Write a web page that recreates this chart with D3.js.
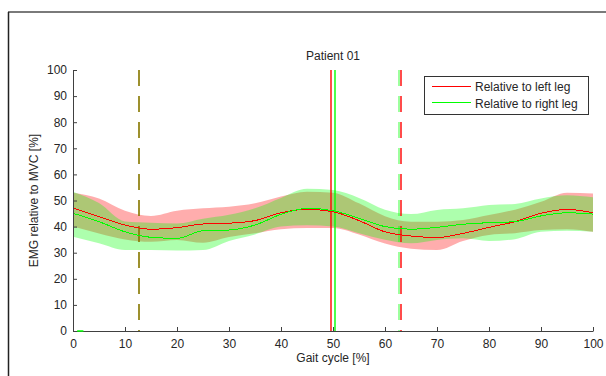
<!DOCTYPE html>
<html>
<head>
<meta charset="utf-8">
<script src="https://cdn.jsdelivr.net/npm/d3@7"></script>
<style>
  body { margin: 0; background: #fff; }
  svg { display: block; font-family: 'Liberation Sans', Arial, sans-serif; }
</style>
</head>
<body>
<div id="chrt"></div>
<script>
// gait cycle sample points [%]
const gaitPct = [0, 5, 10, 15, 20, 25, 30, 35, 40, 45, 50, 55, 60, 65, 70, 75, 80, 85, 90, 95, 100];
// relative to left leg (red)
const leftMean = [47.1, 43.8, 40.6, 39.0, 39.6, 41.0, 41.3, 42.3, 45.3, 46.6, 45.7, 42.3, 38.0, 36.4, 35.8, 37.4, 39.7, 41.9, 45.1, 46.6, 45.3];
const leftUpper = [53.0, 50.8, 46.1, 44.1, 46.1, 47.0, 47.6, 48.9, 51.5, 53.4, 53.0, 48.9, 44.0, 41.9, 41.9, 42.5, 44.4, 46.5, 49.5, 53.0, 52.7];
const leftLower = [40.0, 37.4, 35.1, 34.2, 34.9, 33.8, 36.0, 37.5, 39.0, 39.5, 39.5, 37.0, 33.5, 31.5, 31.0, 34.5, 36.8, 37.5, 38.7, 39.0, 38.0];
// relative to right leg (green)
const rightMean = [45.1, 41.9, 38.0, 35.9, 35.5, 38.4, 38.7, 40.6, 44.7, 47.0, 46.1, 43.2, 40.0, 39.0, 39.7, 40.9, 41.5, 41.9, 44.1, 45.3, 44.8];
const rightUpper = [53.4, 49.0, 42.0, 41.5, 41.2, 43.0, 44.5, 47.0, 51.0, 54.5, 54.0, 51.0, 46.5, 44.8, 46.4, 47.0, 48.3, 48.7, 50.8, 52.0, 51.2];
const rightLower = [36.1, 33.6, 31.0, 31.0, 30.8, 31.0, 34.5, 37.0, 40.0, 40.5, 40.0, 37.5, 35.0, 33.6, 34.9, 35.5, 34.5, 35.2, 38.0, 38.4, 38.0];
// gait events [%]
const leftDashedEvents = [12.5, 63.0];
const rightDashedEvents = [12.5, 62.8];
const leftSolidEvents = [49.7];
const rightSolidEvents = [50.5];
const rightBaseSeg = [0.8, 2.0];
// ticks & labels
const xTicks = [0, 10, 20, 30, 40, 50, 60, 70, 80, 90, 100];
const yTicks = [0, 10, 20, 30, 40, 50, 60, 70, 80, 90, 100];
const seriesNames = ['Relative to left leg', 'Relative to right leg'];
const titleText = 'Patient 01';
const xLabel = 'Gait cycle [%]';
const yLabel = 'EMG relative to MVC [%]';

const width = 606, height = 376;
const margin = { left: 73, right: 13, top: 70, bottom: 45 };
const innerW = width - margin.left - margin.right;
const innerH = height - margin.top - margin.bottom;

const svg = d3.select('#chrt').append('svg')
    .attr('width', width)
    .attr('height', height);

// figure frame (top + left edge of the window)
svg.append('line').attr('x1', 8).attr('x2', width).attr('y1', 12).attr('y2', 12)
    .attr('stroke', '#7a7a7a').attr('stroke-width', 2);
svg.append('line').attr('x1', 8.5).attr('x2', 8.5).attr('y1', 12).attr('y2', height)
    .attr('stroke', '#222').attr('stroke-width', 1.5);

const chrt = svg.append('g').attr('transform', 'translate(' + margin.left + ',' + margin.top + ')');

const scaleX = d3.scaleLinear().domain([0, 100]).range([0, innerW]);
const scaleY = d3.scaleLinear().domain([0, 100]).range([innerH, 0]);
// snap to the middle of an even pixel pair so a thin vertical line keeps its colour
const pxPair = (v) => 2 * Math.floor((scaleX(v) + margin.left) / 2) + 1 - margin.left;

function toRows(mean, upper, lower) {
  return gaitPct.map((p, i) => ({ x: p, m: mean[i], hi: upper[i], lo: lower[i] }));
}
const leftRows = toRows(leftMean, leftUpper, leftLower);
const rightRows = toRows(rightMean, rightUpper, rightLower);

const band = d3.area()
    .x((d) => scaleX(d.x))
    .y0((d) => scaleY(d.lo))
    .y1((d) => scaleY(d.hi))
    .curve(d3.curveMonotoneX);
const meanLine = d3.line()
    .x((d) => scaleX(d.x))
    .y((d) => scaleY(d.m))
    .curve(d3.curveMonotoneX);

chrt.append('path').attr('d', band(leftRows)).attr('fill', '#ff0000').attr('fill-opacity', 0.32);
chrt.append('path').attr('d', band(rightRows)).attr('fill', '#00ff00').attr('fill-opacity', 0.32);

// event lines
function eventLines(vals, color, dashed, opacity) {
  chrt.selectAll(null)
      .data(vals)
      .enter().append('line')
      .attr('x1', (d) => pxPair(d))
      .attr('x2', (d) => pxPair(d))
      .attr('y1', scaleY(100))
      .attr('y2', scaleY(0))
      .attr('stroke', color)
      .attr('stroke-opacity', opacity)
      .attr('stroke-width', 1.4)
      .attr('stroke-dasharray', dashed ? '16,10' : null);
}
eventLines(leftDashedEvents, '#ff0000', true, 1);
eventLines(rightDashedEvents, '#00ff00', true, 0.55);
eventLines(leftSolidEvents, '#ff0000', false, 1);
eventLines(rightSolidEvents, '#00ff00', false, 1);

chrt.append('path').attr('d', meanLine(leftRows)).attr('fill', 'none')
    .attr('stroke', '#ff0000').attr('stroke-width', 1).attr('shape-rendering', 'crispEdges');
chrt.append('path').attr('d', meanLine(rightRows)).attr('fill', 'none')
    .attr('stroke', '#00ff00').attr('stroke-width', 1).attr('shape-rendering', 'crispEdges');

// axes, MATLAB style inward ticks
const axisColor = '#404040';
const xAxis = chrt.append('g')
    .attr('transform', 'translate(0,' + innerH + ')')
    .call(d3.axisBottom(scaleX).tickValues(xTicks).tickSizeInner(-4).tickSizeOuter(0).tickPadding(8));
const yAxis = chrt.append('g')
    .call(d3.axisLeft(scaleY).tickValues(yTicks).tickSizeInner(-4).tickSizeOuter(0).tickPadding(6));
[xAxis, yAxis].forEach((ax) => {
  ax.select('.domain').attr('stroke', axisColor);
  ax.selectAll('.tick line').attr('stroke', axisColor);
  ax.selectAll('.tick text').attr('fill', '#262626').style('font-size', '12px')
      .style('font-family', '\'Liberation Sans\', Arial, sans-serif');
});

chrt.append('line')
    .attr('x1', scaleX(rightBaseSeg[0])).attr('x2', scaleX(rightBaseSeg[1]))
    .attr('y1', scaleY(0)).attr('y2', scaleY(0))
    .attr('stroke', '#00ff00').attr('stroke-width', 1.5);

// title and labels
chrt.append('text')
    .attr('x', innerW / 2).attr('y', -10)
    .attr('text-anchor', 'middle').style('font-size', '12px').attr('fill', '#262626')
    .text(titleText);
chrt.append('text')
    .attr('x', innerW / 2).attr('y', innerH + 31)
    .attr('text-anchor', 'middle').style('font-size', '12px').attr('fill', '#262626')
    .text(xLabel);
chrt.append('text')
    .attr('transform', 'translate(' + (-35) + ',' + (innerH / 2) + ') rotate(-90)')
    .attr('text-anchor', 'middle').style('font-size', '12px').attr('fill', '#262626')
    .text(yLabel);

// legend
const legend = svg.append('g').attr('transform', 'translate(424,76)');
legend.append('rect').attr('x', 0.5).attr('y', 0.5).attr('width', 164).attr('height', 38)
    .attr('fill', '#fff').attr('stroke', '#333');
const legendColors = ['#ff0000', '#00ff00'];
seriesNames.forEach((name, i) => {
  legend.append('line').attr('x1', 8).attr('x2', 47).attr('y1', 10.5 + i * 16).attr('y2', 10.5 + i * 16)
      .attr('stroke', legendColors[i]).attr('stroke-width', 1).attr('shape-rendering', 'crispEdges');
  legend.append('text').attr('x', 51).attr('y', 15 + i * 16.5)
      .style('font-size', '12px').attr('fill', '#262626').text(name);
});
</script>
</body>
</html>
